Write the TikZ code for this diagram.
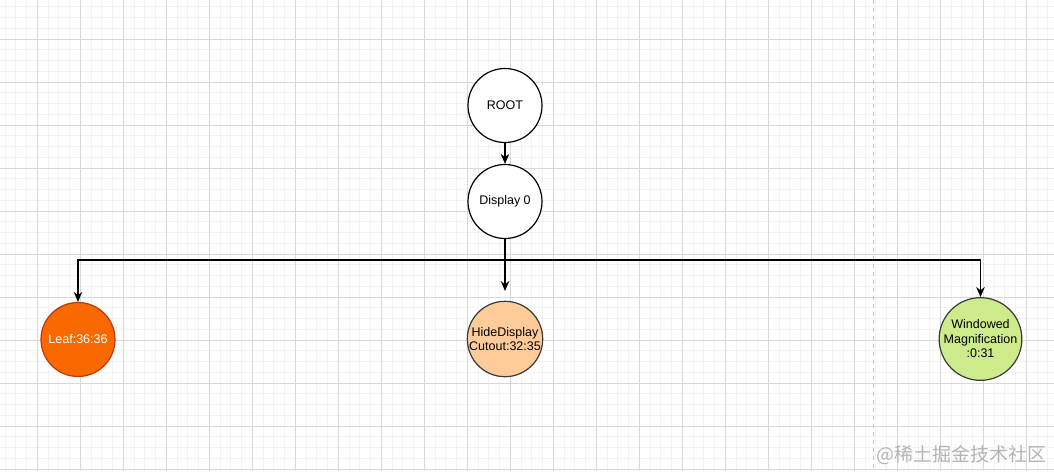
\documentclass[tikz,border=0pt]{standalone}
\usepackage{fontspec}
\setmainfont{Liberation Sans}
\newfontfamily\cjkfont{Noto Sans CJK SC}
\usetikzlibrary{arrows.meta}
\definecolor{minorgrid}{HTML}{F3F3F3}
\definecolor{majorgrid}{HTML}{D8D8D8}
\definecolor{pagebreak}{HTML}{C4C4C4}
\definecolor{leaffill}{HTML}{FA6800}
\definecolor{leafdraw}{HTML}{C73500}
\definecolor{hidefill}{HTML}{FFCC99}
\definecolor{winfill}{HTML}{CDEB8B}
\definecolor{darkdraw}{HTML}{36393D}
\definecolor{wmark}{HTML}{B4B4B4}
\tikzset{
  minorline/.style={draw=minorgrid, line width=0.8pt},
  majorline/.style={draw=majorgrid, line width=0.8pt},
  circnode/.style={circle, minimum size=74pt, inner sep=0pt, line width=1.2pt,
    font=\fontsize{12.5}{14.5}\selectfont, align=center},
  plain/.style={circnode, draw=black, fill=white},
  leafnode/.style={circnode, draw=leafdraw, fill=leaffill, text=white},
  hidenode/.style={circnode, draw=darkdraw, fill=hidefill},
  winnode/.style={circnode, draw=darkdraw, fill=winfill},
  conn/.style={draw=black, line width=1.2pt, -{Stealth[length=10pt,width=8.5pt]}},
}
\begin{document}
\begin{tikzpicture}[x=1pt,y=-1pt]
\useasboundingbox (0,0) rectangle (1054,471);
\fill[white] (0,0) rectangle (1054,471);
% grid
\foreach \i in {-4,...,94}{
  \pgfmathsetmacro\xx{37.3+10.75*\i}
  \draw[minorline] (\xx,0) -- (\xx,471);
}
\foreach \j in {-4,...,40}{
  \pgfmathsetmacro\yy{38.9+10.75*\j}
  \draw[minorline] (0,\yy) -- (1054,\yy);
}
\foreach \i in {0,...,23}{
  \pgfmathsetmacro\xx{37.3+43*\i}
  \draw[majorline] (\xx,0) -- (\xx,471);
}
\foreach \j in {0,...,10}{
  \pgfmathsetmacro\yy{38.9+43*\j}
  \draw[majorline] (0,\yy) -- (1054,\yy);
}
\draw[draw=pagebreak, line width=1.4pt, dash pattern=on 4pt off 4pt] (873.5,0) -- (873.5,471);

% nodes
\node[plain] (root) at (505,105.5) {ROOT};
\node[plain] (disp) at (505,201.5) {Display 0};
\node[leafnode] (leaf) at (78,339.5) {Leaf:36:36};
\node[hidenode] (hide) at (505,339) {HideDisplay\\Cutout:32:35};
\node[winnode] (win) at (980.5,339) {Windowed\\Magnification\\:0:31};

\coordinate (split) at (505,260);
\coordinate (hidetip) at (505,291);

% connectors
\draw[conn] (root.south) -- (disp.north);
\draw[conn] (disp.south) -- (split) -| (leaf.north);
\draw[conn] (disp.south) -- (hidetip);
\draw[conn] (split) -| (win.north);

% watermark
\node[text=wmark, font=\cjkfont\fontsize{19}{22}\selectfont, anchor=east, inner sep=0pt] (wm) at (1047,455) {@稀土掘金技术社区};
\end{tikzpicture}
\end{document}
